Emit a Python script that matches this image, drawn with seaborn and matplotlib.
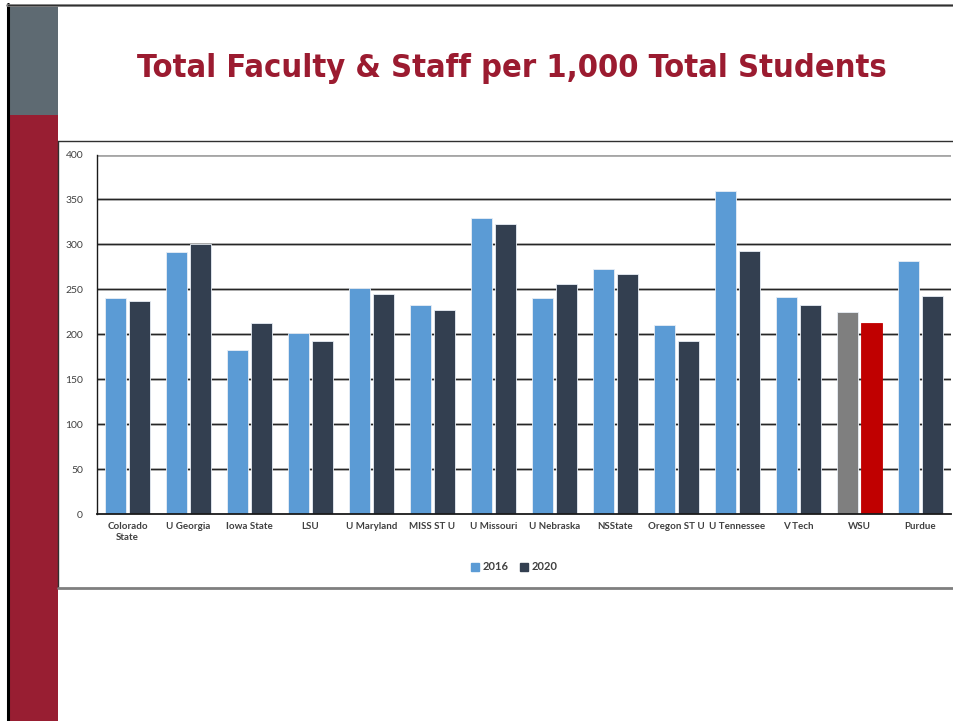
import matplotlib
matplotlib.use("Agg")
import matplotlib.pyplot as plt
from matplotlib.patches import Rectangle
from matplotlib.lines import Line2D
import seaborn as sns
import pandas as pd

schools = ["Colorado\nState", "U Georgia", "Iowa State", "LSU", "U Maryland", "MISS ST U",
           "U Missouri", "U Nebraska", "NSState", "Oregon ST U", "U Tennessee", "V Tech",
           "WSU", "Purdue"]
vals_2016 = [240, 291, 183, 201, 251, 232, 329, 240, 273, 210, 359, 241, 225, 281]
vals_2020 = [237, 300, 212, 192, 245, 227, 323, 256, 267, 193, 293, 233, 213, 243]
years = ["2016", "2020"]
yticks = [0, 50, 100, 150, 200, 250, 300, 350, 400]
title = "Total Faculty & Staff per 1,000 Total Students"

W, H = 954, 721
df = pd.DataFrame({
    "school": schools * 2,
    "value": vals_2016 + vals_2020,
    "year": [years[0]] * len(schools) + [years[1]] * len(schools),
})

sns.set_style("white")
plt.rcParams['font.family'] = ['Lato', 'DejaVu Sans']

fig = plt.figure(figsize=(W / 100, H / 100), dpi=100)

def fx(px):
    return px / W

def fy(py):
    return 1 - py / H

# slide decorations
fig.add_artist(Rectangle((fx(9), fy(115)), fx(58) - fx(9), fy(6) - fy(115),
                         transform=fig.transFigure, color="#5E6A72", lw=0, zorder=0))
fig.add_artist(Rectangle((fx(9), fy(721)), fx(58) - fx(9), fy(115) - fy(721),
                         transform=fig.transFigure, color="#981E32", lw=0, zorder=0))
fig.add_artist(Line2D([fx(8), fx(8)], [fy(4), fy(721)], transform=fig.transFigure,
                      color="black", lw=2.2))
fig.add_artist(Line2D([fx(7), fx(954)], [fy(5), fy(5)], transform=fig.transFigure,
                      color="#808080", lw=2.0))
fig.add_artist(Line2D([fx(8), fx(954)], [fy(5), fy(5)], transform=fig.transFigure,
                      color="#303030", lw=0.8))

# chart box
fig.add_artist(Line2D([fx(58), fx(960)], [fy(141), fy(141)], transform=fig.transFigure,
                      color="#303030", lw=1.0))
fig.add_artist(Line2D([fx(58.5), fx(58.5)], [fy(141), fy(588)], transform=fig.transFigure,
                      color="#303030", lw=1.0))
fig.add_artist(Line2D([fx(58), fx(960)], [fy(588), fy(588)], transform=fig.transFigure,
                      color="#7F7F7F", lw=2.0))

fig.text(fx(511.5), fy(69), title, ha="center", va="center", color="#9B1B30",
         fontsize=23.4, fontweight="bold", family=["DejaVu Sans"], fontstretch="condensed")

ax = fig.add_axes([fx(97), fy(514), fx(951) - fx(97), fy(154.5) - fy(514)])
sns.barplot(data=df, x="school", y="value", hue="year", order=schools, hue_order=years,
            palette=["#5B9BD5", "#333F50"], saturation=1, width=0.762, gap=0.1, ax=ax,
            edgecolor="#E8EEF5", linewidth=0.6, legend=False, zorder=3)

# WSU highlight
wsu = schools.index("WSU")
ax.containers[0][wsu].set_facecolor("#7F7F7F")
ax.containers[1][wsu].set_facecolor("#C00000")
ax.containers[1][wsu].set_edgecolor("#C00000")

ax.set_xlim(-0.5, len(schools) - 0.5)
ax.set_ylim(0, 400)
ax.set_yticks(yticks)
ax.set_yticklabels([str(v) for v in yticks], fontsize=7.5, color="#404040")
ax.set_xticklabels(schools, fontsize=7, color="#404040", fontweight="bold")
ax.tick_params(axis="both", length=0)
ax.tick_params(axis="y", pad=10)
ax.tick_params(axis="x", pad=6)
ax.set_xlabel("")
ax.set_ylabel("")
for v in yticks[1:-1]:
    ax.axhline(v, color="#9A9A9A", lw=1.8, zorder=1)
    ax.axhline(v, color="#262626", lw=0.8, zorder=1)
ax.axhline(400, color="#A6A6A6", lw=2.0, zorder=1)
for s in ["top", "right"]:
    ax.spines[s].set_visible(False)
ax.spines["left"].set_color("#1A1A1A")
ax.spines["left"].set_linewidth(1.0)
ax.spines["bottom"].set_color("#1A1A1A")
ax.spines["bottom"].set_linewidth(1.3)
ax.spines["bottom"].set_zorder(5)

handles = [Rectangle((0, 0), 1, 1, color="#5B9BD5"), Rectangle((0, 0), 1, 1, color="#333F50")]
fig.legend(handles, years, loc="center", bbox_to_anchor=(fx(514), fy(567)), ncol=2,
           frameon=False, handlelength=0.75, handleheight=0.75, handletextpad=0.3,
           columnspacing=1.0, prop={"size": 8, "weight": "bold"}, labelcolor="#404040")

fig.savefig("out.png", dpi=100)
